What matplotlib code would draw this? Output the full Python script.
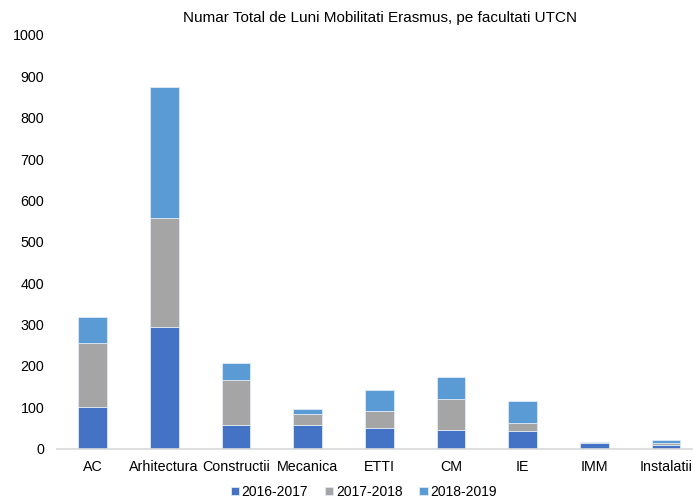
import matplotlib.pyplot as plt
import numpy as np

plt.rcParams['font.family'] = ['Liberation Sans', 'DejaVu Sans']

facultati = ['AC', 'Arhitectura', 'Constructii', 'Mecanica', 'ETTI', 'CM', 'IE', 'IMM', 'Instalatii']
an_2016_2017 = [100, 295, 57, 57, 49, 46, 43, 14, 8]
an_2017_2018 = [155, 262, 108, 27, 41, 75, 19, 2, 5]
an_2018_2019 = [62, 317, 41, 11, 51, 53, 54, 0, 8]

serii = [('2016-2017', an_2016_2017, '#4472C4'),
         ('2017-2018', an_2017_2018, '#A5A5A5'),
         ('2018-2019', an_2018_2019, '#5B9BD5')]

fig = plt.figure(figsize=(6.93, 5.04), dpi=100)
ax = fig.add_axes([0.0818, 0.110, 0.931, 0.8206])

x = np.arange(len(facultati))
baza = np.zeros(len(facultati))
for nume, valori, culoare in serii:
    ax.bar(x, valori, 0.4, bottom=baza, color=culoare, label=nume,
           edgecolor='#dfe9f5', linewidth=0.6)
    baza += np.array(valori)

ax.set_xlim(-0.5, len(facultati) - 0.5)
ax.set_ylim(0, 1000)
ax.set_yticks(range(0, 1001, 100))
ax.set_xticks(x)
ax.set_xticklabels(facultati)
ax.tick_params(axis='both', length=0, labelsize=10.3, colors='#000000')
ax.tick_params(axis='x', pad=8)
ax.tick_params(axis='y', pad=9)
for s in ['top', 'right', 'left']:
    ax.spines[s].set_visible(False)
ax.spines['bottom'].set_color('#d9d9d9')
ax.spines['bottom'].set_linewidth(1.2)

fig.text(0.548, 0.965, 'Numar Total de Luni Mobilitati Erasmus, pe facultati UTCN',
         ha='center', va='center', fontsize=11)

fig.legend(loc='center', bbox_to_anchor=(0.525, 0.024), ncol=3, frameon=False,
           fontsize=10, handlelength=0.6, handleheight=0.6, handletextpad=0.2,
           columnspacing=1.2)

fig.savefig('out.png', dpi=100)
